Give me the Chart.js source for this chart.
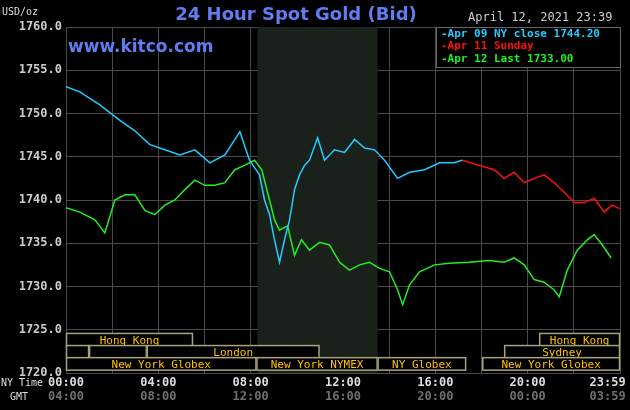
<!DOCTYPE html>
<html><head><script src="https://cdn.jsdelivr.net/npm/chart.js@4"></script>
<style>body{margin:0;background:#000}#w{width:630px;height:410px}</style></head>
<body><div id="w"><canvas id="c"></canvas></div>
<script>
const blueT=[0,36,88,140,179,218,257,296,335,374,413,452,477,503,516,529,542,555,568,581,594,607,620,633,654,672,698,724,750,776,802,828,862,893,932,971,1009,1030];
const blueV=[1753.1,1752.5,1751,1749.2,1748,1746.4,1745.8,1745.2,1745.8,1744.3,1745.2,1747.9,1744.6,1742.9,1740,1738.3,1735.4,1732.8,1735.4,1737.7,1741.2,1742.9,1744,1744.6,1747.2,1744.6,1745.8,1745.5,1747,1746,1745.8,1744.6,1742.5,1743.2,1743.5,1744.3,1744.3,1744.6];
const redT=[1030,1074,1113,1139,1165,1191,1217,1243,1269,1295,1321,1347,1373,1399,1419,1439];
const redV=[1744.6,1744,1743.5,1742.5,1743.2,1742,1742.5,1742.9,1742,1740.9,1739.7,1739.7,1740.2,1738.6,1739.4,1739];
const greenT=[0,36,75,101,127,153,179,205,231,257,283,309,335,361,387,413,439,464,490,509,529,542,555,576,594,612,633,659,685,711,737,763,789,815,841,862,875,893,919,958,996,1048,1100,1139,1165,1191,1217,1243,1269,1282,1303,1329,1355,1373,1394,1417];
const greenV=[1739.1,1738.6,1737.7,1736.2,1740,1740.6,1740.6,1738.8,1738.3,1739.4,1740,1741.2,1742.3,1741.7,1741.7,1742,1743.5,1744,1744.6,1743.5,1740,1737.7,1736.5,1737,1733.6,1735.4,1734.2,1735.1,1734.8,1732.8,1731.9,1732.5,1732.8,1732.1,1731.7,1729.6,1727.9,1730.2,1731.7,1732.5,1732.7,1732.8,1733,1732.8,1733.3,1732.5,1730.8,1730.5,1729.6,1728.8,1731.9,1734.2,1735.4,1736,1734.8,1733.3];
const nyLabels=['00:00','04:00','08:00','12:00','16:00','20:00','23:59'];
const gmtLabels=['04:00','08:00','12:00','16:00','20:00','00:00','03:59'];
const labelT=[0,240,480,720,960,1200,1439];
const sessions=[[0,0,330,'Hong Kong'],[0,1230,1440,'Hong Kong'],[1,0,60,''],[1,60,210,''],[1,210,659,'London'],[1,1139,1440,'Sydney'],[2,0,495,'New York Globex'],[2,495,810,'New York NYMEX'],[2,810,1040,'NY Globex'],[2,1082,1440,'New York Globex']];
const shade=[498,810];
const pts=(t,v)=>t.map((x,i)=>({x,y:v[i]}));
const F='"DejaVu Sans Mono", monospace';
const plug={id:'k',
beforeDatasetsDraw(ch){const c=ch.ctx,x=ch.scales.x,a=ch.chartArea;c.save();c.fillStyle='#1a201a';
c.fillRect(x.getPixelForValue(shade[0]),a.top,x.getPixelForValue(shade[1])-x.getPixelForValue(shade[0]),a.bottom-a.top);c.restore();},
afterDraw(ch){const c=ch.ctx,x=ch.scales.x,y=ch.scales.y,a=ch.chartArea;c.save();
const rows=[y.getPixelForValue(1723.85),y.getPixelForValue(1722.45),y.getPixelForValue(1721.05)];const rh=12.5;
c.font='11px '+F;c.textAlign='center';c.textBaseline='middle';
sessions.forEach(s=>{const x0=x.getPixelForValue(s[1]),x1=x.getPixelForValue(s[2]);const yt=rows[s[0]]-rh/2;
c.fillStyle='#000';c.fillRect(x0,yt,x1-x0,rh);c.strokeStyle='#a8a27a';c.lineWidth=1.5;c.strokeRect(x0+0.5,yt,x1-x0-1,rh);
c.fillStyle='#ffc000';if(s[3])c.fillText(s[3],(x0+x1)/2,rows[s[0]]+1);});
c.font='bold 12px '+F;
labelT.forEach((t,i)=>{let px=x.getPixelForValue(t);c.textAlign=i==6?'right':'center';
let xx=i==6?px+6:px;c.fillStyle='#ddd';c.fillText(nyLabels[i],xx,383);c.fillStyle='#707070';c.fillText(gmtLabels[i],xx,397);});
c.font='10px '+F;c.textAlign='left';c.fillStyle='#ddd';c.fillText('NY Time',1,383);c.fillText('GMT',10,397);
c.fillText('USD/oz',2,12);
c.font='bold 18px "DejaVu Sans", sans-serif';c.textAlign='center';c.fillStyle='#5f7cf0';c.fillText('24 Hour Spot Gold (Bid)',296,15);
c.font='bold 17px "DejaVu Sans", sans-serif';c.textAlign='left';c.fillText('www.kitco.com',68,48);
c.font='12px '+F;c.fillStyle='#ccc';c.fillText('April 12, 2021 23:39',468,18);
c.fillStyle='#000';c.fillRect(437,27,183,40);c.strokeStyle='#666';c.lineWidth=1;c.strokeRect(436.5,27.5,184,40);
c.font='bold 11px '+F;[['#22ccff','-Apr 09 NY close 1744.20'],['#ff1010','-Apr 11 Sunday'],['#22ee22','-Apr 12 Last 1733.00']].forEach((l,i)=>{c.fillStyle=l[0];c.fillText(l[1],441,34+i*12.5);});
c.restore();}};
new Chart(document.getElementById('c'),{type:'line',
data:{datasets:[{data:pts(blueT,blueV),borderColor:'#22ccff'},{data:pts(redT,redV),borderColor:'#ff1010'},{data:pts(greenT,greenV),borderColor:'#22ee22'}].map(d=>Object.assign(d,{borderWidth:1.5,pointRadius:0,tension:0}))},
options:{responsive:true,maintainAspectRatio:false,animation:false,events:[],
layout:{padding:{top:27,right:10,bottom:37,left:0}},
plugins:{legend:{display:false},tooltip:{enabled:false}},
scales:{x:{type:'linear',min:0,max:1440,grid:{color:'#4a4a4a',drawTicks:false},border:{color:'#4a4a4a'},ticks:{display:false,stepSize:120},afterFit(s){s.height=0;}},
y:{min:1720,max:1760,grid:{color:'#4a4a4a',drawTicks:false},border:{color:'#4a4a4a'},afterFit(s){s.width=66;},
ticks:{stepSize:5,color:'#ccc',padding:4,font:{family:'"DejaVu Sans Mono", monospace',size:12,weight:'bold'},callback:v=>v.toFixed(1)}}}},
plugins:[plug]});
</script></body></html>
